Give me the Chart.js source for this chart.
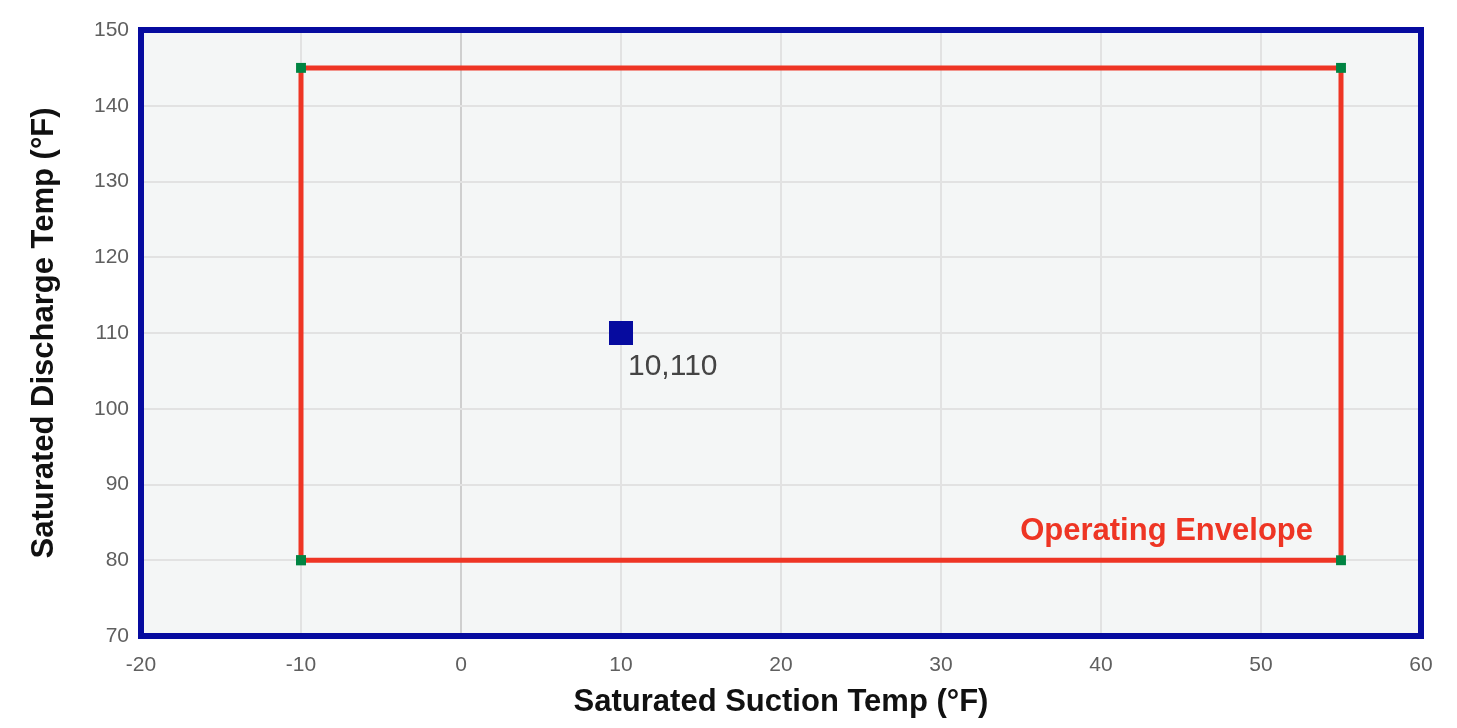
<!DOCTYPE html>
<html>
<head>
<meta charset="utf-8">
<script src="https://cdn.jsdelivr.net/npm/chart.js@4"></script>
<style>
  body { margin: 0; background: #fff; }
  #wrap { width: 1457px; height: 728px; }
</style>
</head>
<body>
<div id="wrap"><canvas id="grafica" width="1457" height="728"></canvas></div>
<script>
// envelope corners (suction, discharge)
const envelopeX = [-10, -10, 55, 55, -10];
const envelopeY = [80, 145, 145, 80, 80];
// operating point
const pointX = [10];
const pointY = [110];
const pointLabels = ['10,110'];
const envelopeLabel = 'Operating Envelope';

const xMin = -20, xMax = 60, xStep = 10;
const yMin = 70, yMax = 150, yStep = 10;

const FONT = '"Liberation Sans", Arial, sans-serif';
const AZUL = '#060b9f';
const ROJO = '#ee3524';
const VERDE = '#008442';

// fondo y borde del área de la gráfica
const fondoPlugin = {
    id: 'fondo',
    beforeDraw(chart) {
        const { ctx, chartArea: a } = chart;
        ctx.save();
        ctx.fillStyle = '#f4f6f6';
        ctx.fillRect(a.left, a.top, a.right - a.left, a.bottom - a.top);
        ctx.restore();
    },
    afterDatasetsDraw(chart) {
        const { ctx, chartArea: a, scales } = chart;
        ctx.save();
        ctx.strokeStyle = AZUL;
        ctx.lineWidth = 6;
        ctx.strokeRect(a.left, a.top, a.right - a.left, a.bottom - a.top);

        // etiqueta del punto
        ctx.fillStyle = '#444';
        ctx.font = '30px ' + FONT;
        ctx.textAlign = 'left';
        ctx.textBaseline = 'alphabetic';
        pointX.forEach((x, i) => {
            ctx.fillText(pointLabels[i], scales.x.getPixelForValue(x) + 7, scales.y.getPixelForValue(pointY[i]) + 42);
        });

        // etiqueta de la envolvente
        ctx.fillStyle = ROJO;
        ctx.font = 'bold 31px ' + FONT;
        ctx.textAlign = 'right';
        ctx.fillText(envelopeLabel, scales.x.getPixelForValue(Math.max(...envelopeX)) - 28,
            scales.y.getPixelForValue(Math.min(...envelopeY)) - 20);
        ctx.restore();
    }
};

const ctx = document.getElementById('grafica').getContext('2d');
new Chart(ctx, {
    type: 'scatter',
    data: {
        datasets: [
            {
                label: 'Envelope',
                data: envelopeX.map((x, i) => ({ x: x, y: envelopeY[i] })),
                showLine: true,
                borderColor: ROJO,
                borderWidth: 5,
                pointStyle: 'rect',
                pointRadius: 7,
                pointBackgroundColor: VERDE,
                pointBorderWidth: 0,
                fill: false
            },
            {
                label: 'Point',
                data: pointX.map((x, i) => ({ x: x, y: pointY[i] })),
                pointStyle: 'rect',
                pointRadius: 17,
                pointBackgroundColor: AZUL,
                pointBorderWidth: 0
            }
        ]
    },
    options: {
        responsive: false,
        animation: false,
        layout: { padding: { top: 30, right: 36, left: 0, bottom: 0 } },
        plugins: {
            legend: { display: false },
            tooltip: { enabled: false }
        },
        scales: {
            x: {
                type: 'linear',
                min: xMin, max: xMax,
                ticks: { stepSize: xStep, color: '#5f5f5f', font: { size: 21, family: FONT }, padding: 17 },
                grid: {
                    drawTicks: false,
                    lineWidth: 2,
                    color: c => c.tick && c.tick.value === 0 ? '#cfcfcf' : '#e2e2e2'
                },
                border: { display: false },
                title: { display: true, text: 'Saturated Suction Temp (°F)', color: '#111',
                    font: { size: 31, weight: 'bold', family: FONT }, padding: { top: 8, bottom: 7 } },
                afterFit(scale) { scale.height = 92; }
            },
            y: {
                type: 'linear',
                min: yMin, max: yMax,
                ticks: { stepSize: yStep, color: '#5f5f5f', font: { size: 21, family: FONT }, padding: 12 },
                grid: { drawTicks: false, lineWidth: 2, color: '#e2e2e2' },
                border: { display: false },
                title: { display: true, text: 'Saturated Discharge Temp (°F)', color: '#111',
                    font: { size: 31, weight: 'bold', family: FONT }, padding: { top: 26, bottom: 4 } },
                afterFit(scale) { scale.width = 141; }
            }
        }
    },
    plugins: [fondoPlugin]
});
</script>
</body>
</html>
